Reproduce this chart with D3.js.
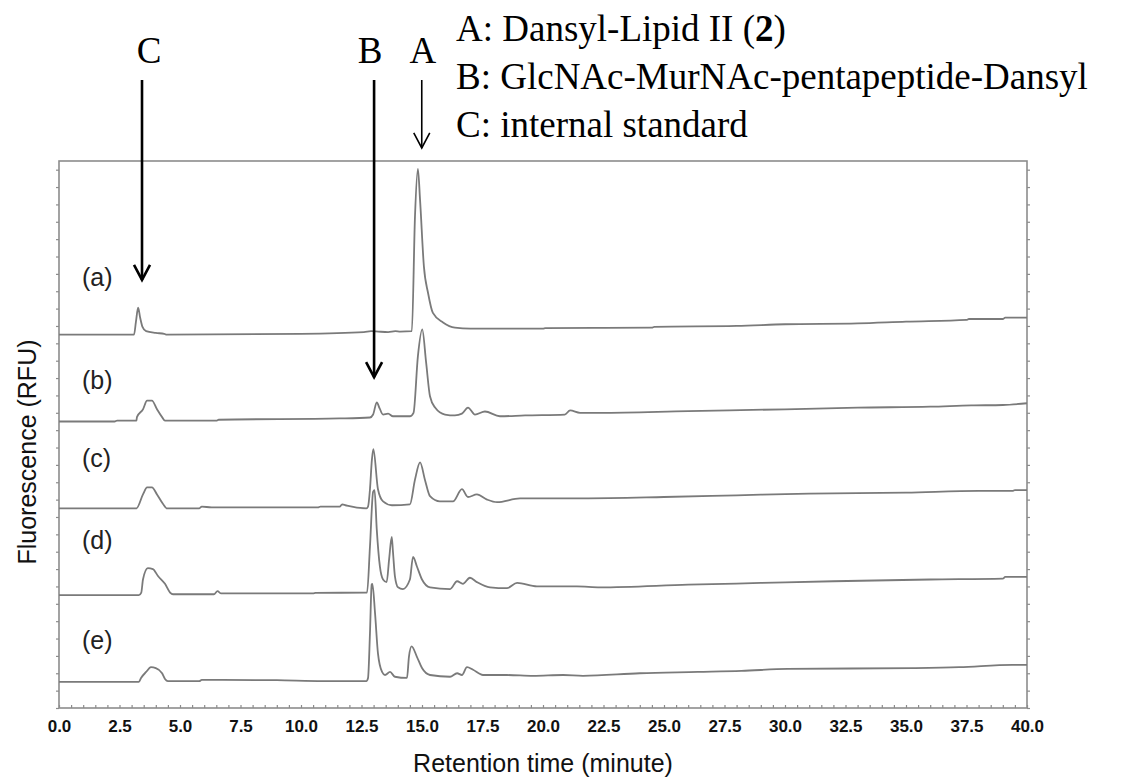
<!DOCTYPE html>
<html>
<head>
<meta charset="utf-8">
<script src="https://cdn.jsdelivr.net/npm/d3@7"></script>
<style>
  html, body { margin: 0; padding: 0; background: #fff; }
</style>
</head>
<body>
<script>

// retention time (min), signal above each trace's own baseline (RFU, arbitrary)
var traceA = [[0,0],[2.0,0],[3.1,0],[3.18,0.15],[3.27,0.31],[3.35,0.2],[3.45,0.09],[3.6,0.04],[4.0,0.02],[4.35,0.01],[4.45,0],
  [10,0.01],[12.6,0.03],[12.9,0.04],[13.2,0.035],[13.6,0.03],[13.9,0.04],[14.1,0.035],[14.58,0.04],[14.71,1.36],[14.83,1.91],
  [14.92,1.55],[15.08,0.78],[15.25,0.48],[15.45,0.25],[15.87,0.14],[16.36,0.08],[17,0.07],[20,0.07],[20.1,0.075],[24.5,0.08],
  [24.6,0.09],[28,0.1],[30,0.12],[33,0.13],[35,0.15],[37.5,0.17],[37.6,0.18],[39.0,0.18],[39.1,0.196],[40,0.196]];

var traceB = [[0,0],[2.3,0],[2.4,0.01],[3.2,0.01],[3.22,0.05],[3.47,0.14],[3.64,0.24],[3.84,0.24],[4.05,0.14],[4.26,0.05],
  [4.38,0.01],[6.5,0.01],[6.6,0.02],[11.6,0.035],[12.85,0.046],[12.98,0.08],[13.13,0.22],[13.25,0.15],[13.39,0.08],[13.6,0.09],
  [13.8,0.06],[14.5,0.06],[14.65,0.1],[14.83,0.75],[15.01,1.06],[15.17,0.68],[15.33,0.29],[15.54,0.16],[15.95,0.08],[16.36,0.07],
  [16.65,0.09],[16.9,0.16],[17.19,0.08],[17.6,0.115],[18.22,0.06],[19.26,0.07],[20.9,0.08],[21.12,0.127],[21.53,0.1],[22.36,0.1],
  [26,0.12],[30,0.14],[33,0.16],[36,0.17],[37.7,0.185],[39,0.19],[40,0.21]];

var traceC = [[0,0],[3.2,0],[3.47,0.16],[3.64,0.24],[3.84,0.24],[4.05,0.16],[4.3,0.05],[4.45,0],[5.8,0],[5.9,0.02],[6.3,0.01],
  [10.7,0.01],[10.8,0.02],[11.6,0.02],[11.7,0.046],[11.9,0.03],[12.7,0],[12.77,0.02],[12.85,0.22],[12.93,0.56],[12.99,0.68],
  [13.18,0.22],[13.39,0.08],[13.76,0.035],[14.5,0.046],[14.71,0.33],[14.92,0.53],[15.12,0.33],[15.33,0.14],[15.74,0.08],
  [16.28,0.08],[16.65,0.22],[16.9,0.13],[17.27,0.16],[17.69,0.1],[18.1,0.07],[19.05,0.115],[20.29,0.115],[21.65,0.115],
  [25,0.13],[28,0.15],[31,0.17],[35,0.18],[38,0.2],[39.4,0.2],[39.5,0.21],[40,0.21]];

var traceD = [[0,0],[3.3,0],[3.4,0.03],[3.47,0.18],[3.67,0.31],[3.88,0.3],[4.09,0.22],[4.38,0.13],[4.59,0.03],[4.71,0.01],
  [6.4,0.01],[6.55,0.045],[6.7,0.02],[10.5,0.02],[10.6,0.025],[12.73,0.03],[12.85,0.56],[12.98,1.19],[13.04,1.21],[13.13,0.76],
  [13.26,0.33],[13.39,0.18],[13.54,0.15],[13.64,0.41],[13.75,0.67],[13.8,0.5],[13.88,0.22],[14.01,0.09],[14.21,0.07],[14.5,0.18],
  [14.63,0.44],[14.79,0.33],[15.0,0.18],[15.33,0.09],[16.16,0.07],[16.45,0.16],[16.69,0.13],[16.98,0.2],[17.27,0.15],[17.81,0.09],
  [18.51,0.08],[18.93,0.14],[19.75,0.1],[21.4,0.1],[22.36,0.09],[26,0.12],[29,0.14],[32,0.16],[36,0.18],[39,0.19],[39.1,0.21],[40,0.21]];

var traceE = [[0,0],[3.3,0],[3.39,0.046],[3.6,0.115],[3.8,0.17],[4.0,0.16],[4.26,0.1],[4.38,0.035],[4.5,0.01],[5.8,0.01],
  [5.9,0.025],[9.0,0.02],[10.9,0.01],[12.7,0.01],[12.77,0.046],[12.85,0.56],[12.92,1.12],[12.95,1.13],[13.06,0.79],[13.18,0.33],
  [13.35,0.115],[13.47,0.08],[13.68,0.115],[13.88,0.06],[14.38,0.046],[14.46,0.29],[14.57,0.41],[14.79,0.29],[15.0,0.16],
  [15.33,0.08],[16.16,0.06],[16.45,0.1],[16.65,0.08],[16.86,0.17],[17.11,0.14],[17.52,0.08],[18.51,0.08],[19.59,0.07],
  [20.83,0.08],[21.65,0.07],[24.0,0.1],[26.4,0.115],[28.2,0.127],[30.1,0.15],[35.3,0.16],[37.2,0.17],[39.4,0.196],[40,0.196]];

var traceNames = ['(a)', '(b)', '(c)', '(d)', '(e)'];
var traceOffsets = [4.3, 3.3, 2.3, 1.3, 0.3];
var xTickLabels = d3.range(0, 40.01, 2.5);

// peak markers: letter, retention time, where the arrow stops (RFU)
var markerLetters = ['C', 'B', 'A'];
var markerTimes = [3.43, 13.02, 14.99];
var markerTips = [4.93, 3.81, 6.45];

var legendLines = ['A: Dansyl-Lipid II (', 'B: GlcNAc-MurNAc-pentapeptide-Dansyl', 'C: internal standard'];

var Chrom = {

  width: 1135,
  height: 780,
  plot: { left: 59, right: 1027, top: 161, bottom: 708 },
  lineColor: '#7a7a7a',
  frameColor: '#8c8c8c',

  svg: null,
  x: null,
  y: null,

  init: function () {

    this.svg = d3.select('body').append('svg')
      .attr('width', this.width)
      .attr('height', this.height)
      .style('display', 'block');

    this.x = d3.scaleLinear().domain([0, 40]).range([this.plot.left, this.plot.right]);
    this.y = d3.scaleLinear().domain([0, 6.3]).range([this.plot.bottom, this.plot.top]);

    this.drawFrame();
    this.drawTraces();
    this.drawMarkers();
    this.drawLegend();
  },

  drawFrame: function () {
    var p = this.plot, svg = this.svg;

    // minor ticks (inward on the bottom, outward on the sides)
    svg.append('g')
      .attr('transform', 'translate(0,' + p.bottom + ')')
      .call(d3.axisTop(this.x).tickValues(d3.range(0, 40.01, 0.5)).tickSize(3).tickFormat(''))
      .call(this.styleAxis, this.frameColor);

    svg.append('g')
      .attr('transform', 'translate(' + p.left + ',0)')
      .call(d3.axisLeft(this.y).tickValues(d3.range(0, 6.25, 0.2)).tickSize(3).tickFormat(''))
      .call(this.styleAxis, this.frameColor);

    svg.append('g')
      .attr('transform', 'translate(' + p.right + ',0)')
      .call(d3.axisRight(this.y).tickValues(d3.range(0, 6.25, 0.2)).tickSize(3).tickFormat(''))
      .call(this.styleAxis, this.frameColor);

    // tick labels
    svg.append('g')
      .attr('transform', 'translate(0,' + p.bottom + ')')
      .call(d3.axisBottom(this.x).tickValues(xTickLabels).tickSize(0).tickPadding(12).tickFormat(d3.format('.1f')))
      .call(function (g) {
        g.select('.domain').remove();
        g.selectAll('text')
          .style('font-family', 'Arial, "Liberation Sans", sans-serif')
          .style('font-size', '17px')
          .style('font-weight', 'bold')
          .attr('fill', '#111');
      });

    svg.append('rect')
      .attr('x', p.left).attr('y', p.top)
      .attr('width', p.right - p.left).attr('height', p.bottom - p.top)
      .attr('fill', 'none')
      .attr('stroke', this.frameColor)
      .attr('stroke-width', 1.6);

    svg.append('text')
      .attr('x', 543)
      .attr('y', 772)
      .attr('text-anchor', 'middle')
      .style('font-family', 'Arial, "Liberation Sans", sans-serif')
      .style('font-size', '25px')
      .attr('fill', '#111')
      .text('Retention time (minute)');

    svg.append('text')
      .attr('transform', 'translate(36,452) rotate(-90)')
      .attr('text-anchor', 'middle')
      .style('font-family', 'Arial, "Liberation Sans", sans-serif')
      .style('font-size', '25px')
      .attr('fill', '#111')
      .text('Fluorescence (RFU)');
  },

  styleAxis: function (g, color) {
    g.select('.domain').remove();
    g.selectAll('line').attr('stroke', color).attr('stroke-width', 1.2);
  },

  drawTraces: function () {
    var x = this.x, y = this.y, svg = this.svg;
    var traces = [traceA, traceB, traceC, traceD, traceE];
    var labelRise = [0.66, 0.47, 0.58, 0.63, 0.48];

    traces.forEach(function (trace, i) {
      var off = traceOffsets[i];
      var line = d3.line()
        .x(function (d) { return x(d[0]); })
        .y(function (d) { return y(d[1] + off); })
        .curve(d3.curveMonotoneX);

      svg.append('path')
        .datum(trace)
        .attr('d', line)
        .attr('fill', 'none')
        .attr('stroke', this.lineColor)
        .attr('stroke-width', 1.8)
        .attr('stroke-linejoin', 'round');

      svg.append('text')
        .attr('x', 82)
        .attr('y', y(off + labelRise[i]))
        .attr('dy', '0.35em')
        .style('font-family', 'Arial, "Liberation Sans", sans-serif')
        .style('font-size', '25px')
        .attr('fill', '#222')
        .text(traceNames[i]);
    }, this);
  },

  drawMarkers: function () {
    var x = this.x, y = this.y, svg = this.svg;
    var top = 80;
    var widths = [2.6, 2.6, 1.6];

    markerLetters.forEach(function (letter, i) {
      var cx = x(markerTimes[i]);
      var tip = y(markerTips[i]);

      svg.append('text')
        .attr('x', cx + (i === 0 ? 7 : i === 1 ? -4 : 1))
        .attr('y', 63)
        .attr('text-anchor', 'middle')
        .style('font-family', '"Times New Roman", "Liberation Serif", serif')
        .style('font-size', '37px')
        .attr('fill', '#000')
        .text(letter);

      svg.append('line')
        .attr('x1', cx).attr('x2', cx)
        .attr('y1', top).attr('y2', tip)
        .attr('stroke', '#000')
        .attr('stroke-width', widths[i]);

      svg.append('path')
        .attr('d', 'M' + (cx - 8) + ',' + (tip - 15) + 'L' + cx + ',' + tip + 'L' + (cx + 8) + ',' + (tip - 15))
        .attr('fill', 'none')
        .attr('stroke', '#000')
        .attr('stroke-width', widths[i]);
    });
  },

  drawLegend: function () {
    var g = this.svg.append('g')
      .style('font-family', '"Times New Roman", "Liberation Serif", serif')
      .style('font-size', '37px')
      .attr('fill', '#000');

    legendLines.forEach(function (txt, i) {
      var t = g.append('text')
        .attr('x', 456)
        .attr('y', 41 + i * 48);
      t.append('tspan').text(txt);
      if (i === 0) {
        t.append('tspan').style('font-weight', 'bold').text('2');
        t.append('tspan').text(')');
      }
    });
  }
};

document.addEventListener('DOMContentLoaded', function () {
  Chrom.init();
});
</script>
</body>
</html>
